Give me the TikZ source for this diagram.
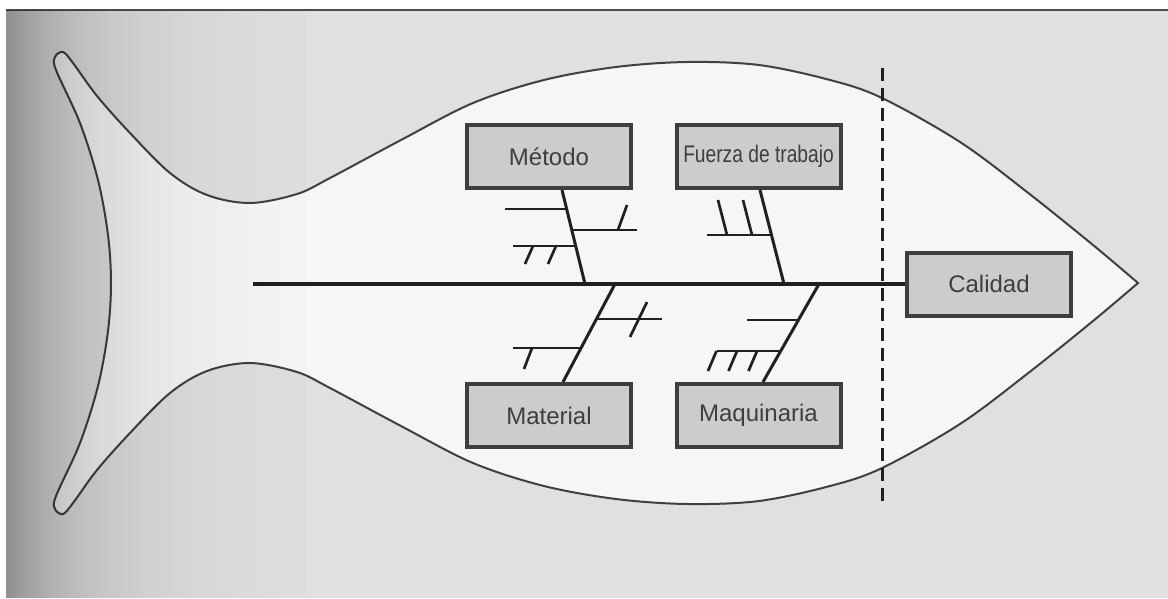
\documentclass[tikz,border=0pt]{standalone}
\usepackage{fontspec}
\usepackage{graphicx}
\setmainfont{Liberation Sans}
\definecolor{page}{RGB}{224,224,222}
\definecolor{fishin}{RGB}{246,246,244}
\definecolor{boxfill}{RGB}{204,204,202}
\definecolor{boxline}{RGB}{62,62,62}
\definecolor{ink}{RGB}{32,32,32}
\definecolor{txt}{RGB}{62,62,62}
\begin{document}
\begin{tikzpicture}[x=1pt,y=-1pt,
  cause/.style={draw=boxline, line width=4pt, fill=boxfill, minimum width=164pt,
    minimum height=63pt, inner sep=0pt, text=txt, font=\fontsize{24}{28}\selectfont},
  bone/.style={draw=ink, line width=3pt},
  spinebone/.style={draw=ink, line width=3.2pt},
  minor/.style={draw=ink, line width=2.7pt},
  outline/.style={draw=black!75, line width=2pt, fill=fishin},
  boundary/.style={draw=ink, line width=3pt, dash pattern=on 13pt off 7pt}]
\useasboundingbox (0,0) rectangle (1168,598);
\fill[white] (0,0) rectangle (1168,598);
\fill[page] (6,10) rectangle (1168,598);
\draw[black!70, line width=1.4pt] (6,10) -- (1168,10);

% fish outline
\path[outline] plot[smooth, tension=0.55] coordinates {
 (1138,283) (1093,245) (1027,192) (960,142) (882,98) (830,80) (759,65) (687,62)
 (616,67) (544,80) (473,103) (401,140) (330,178) (297,194) (250,203) (207,195)
 (170,173) (130,133) (97,96) (73,63) (63,52) (55,57) (56,70) (80,123) (98,180)
 (108,235) (111,283) (108,331) (98,386) (80,443) (56,496) (55,509) (63,514)
 (73,503) (97,470) (130,433) (170,393) (207,371) (250,363) (297,372) (330,388)
 (401,426) (473,463) (544,486) (616,499) (687,504) (759,501) (830,486) (882,468)
 (960,424) (1027,374) (1093,321) (1138,283)} -- cycle;

% boundary line
\coordinate (dtop) at (882,68);
\coordinate (dbot) at (882,503);
\draw[boundary] (dtop) -- (dbot);

% nodes
\node[cause] (met) at (549,156.5) {Método};
\node[cause] (fue) at (758.5,156.5) {\scalebox{0.8}[1]{Fuerza de trabajo}};
\node[cause] (mat) at (549,415.5) {Material};
\node[cause] (maq) at (758.5,415.5) {Maquinaria};
\node[cause] (cal) at (989,284) {Calidad};

% spine
\coordinate (tail) at (253,284);
\draw[spinebone] (tail) -- (cal.west);

% main bones
\coordinate (sMet) at (585,284);
\coordinate (sFue) at (784,284);
\coordinate (sMat) at (615,284);
\coordinate (sMaq) at (819,284);
\draw[bone] ([xshift=13pt]met.south) -- (sMet);
\draw[bone] ([xshift=1.5pt]fue.south) -- (sFue);
\draw[bone] ([xshift=14pt]mat.north) -- (sMat);
\draw[bone] ([xshift=4.5pt]maq.north) -- (sMaq);

% Metodo sub-causes
\coordinate (a1) at (505,209);   \coordinate (a2) at (567,209);
\coordinate (b1) at (572,230);   \coordinate (b2) at (637,230);
\coordinate (b3) at (618,230);   \coordinate (b4) at (627,205);
\coordinate (c1) at (513,246);   \coordinate (c2) at (576,246);
\coordinate (c3) at (533,246);   \coordinate (c4) at (525,264);
\coordinate (c5) at (556,246);   \coordinate (c6) at (548,264);
\draw[minor] (a1) -- (a2);
\draw[minor] (b1) -- (b2);
\draw[minor] (b3) -- (b4);
\draw[minor] (c1) -- (c2);
\draw[minor] (c3) -- (c4);
\draw[minor] (c5) -- (c6);

% Fuerza de trabajo sub-causes
\coordinate (d1) at (707,235);   \coordinate (d2) at (771.5,235);
\coordinate (d3) at (727,235);   \coordinate (d4) at (718,200);
\coordinate (d5) at (752,235);   \coordinate (d6) at (743,200);
\draw[minor] (d1) -- (d2);
\draw[minor] (d3) -- (d4);
\draw[minor] (d5) -- (d6);

% Material sub-causes
\coordinate (e1) at (596,319);   \coordinate (e2) at (662,319);
\coordinate (e3) at (647,302);   \coordinate (e4) at (630,337);
\coordinate (f1) at (513,348);   \coordinate (f2) at (581,348);
\coordinate (f3) at (532,348);   \coordinate (f4) at (524,369);
\draw[minor] (e1) -- (e2);
\draw[minor] (e3) -- (e4);
\draw[minor] (f1) -- (f2);
\draw[minor] (f3) -- (f4);

% Maquinaria sub-causes
\coordinate (g1) at (747,320);   \coordinate (g2) at (798,320);
\coordinate (h1) at (716.5,351); \coordinate (h2) at (780.5,351);
\coordinate (h3) at (716.5,351); \coordinate (h4) at (708,371);
\coordinate (h5) at (737,351);   \coordinate (h6) at (728.5,371);
\coordinate (h7) at (757,351);   \coordinate (h8) at (748.5,371);
\draw[minor] (g1) -- (g2);
\draw[minor] (h1) -- (h2);
\draw[minor] (h3) -- (h4);
\draw[minor] (h5) -- (h6);
\draw[minor] (h7) -- (h8);

% scan shadow on the left (stacked strips)
\foreach \i in {0,...,74}{
  \pgfmathsetmacro{\op}{0.36*exp(-(\i*4+2)/85)}
  \fill[black, opacity=\op] ({6+\i*4},10) rectangle ({10+\i*4},598);
}
\end{tikzpicture}
\end{document}
